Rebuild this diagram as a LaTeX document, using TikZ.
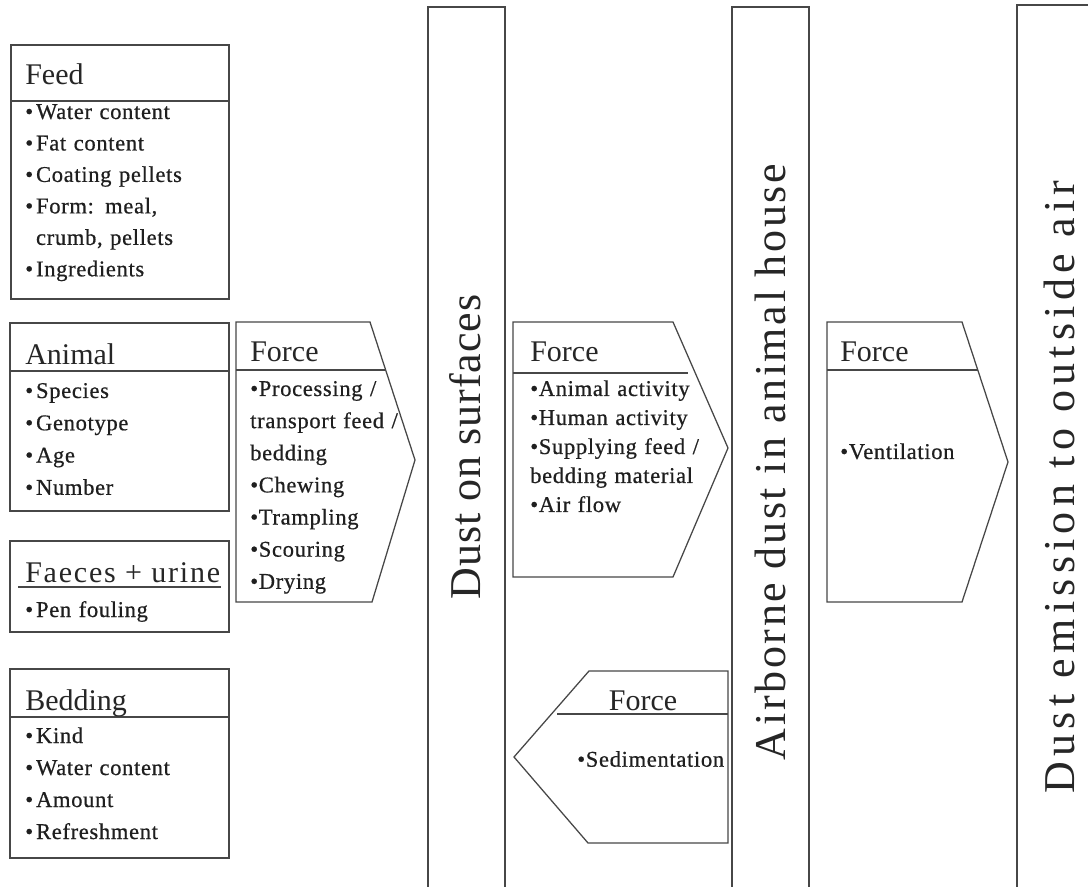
\documentclass[tikz,border=0pt]{standalone}
\usepackage{fontspec}
\setmainfont{Liberation Serif}
\tikzset{
  ln/.style={draw=black!72, line width=0.95pt, line join=miter},
  ttl/.style={anchor=base west, inner sep=0pt, text=black!85, font=\fontsize{22.5}{26}\selectfont},
  body/.style={anchor=base west, inner sep=0pt, text=black!88, text width=220pt, align=left, font=\fontsize{16.9}{#1}\selectfont\addfontfeatures{LetterSpace=3,FakeBold=0.6}},
  bartext/.style={anchor=base, rotate=90, inner sep=0pt, text=black!85, font=\fontsize{33}{36}\selectfont}
}
\newcommand{\bl}{\textbullet\hspace{2.2pt}}
\begin{document}
\begin{tikzpicture}[x=0.75pt,y=-0.75pt]
\path[fill=white,use as bounding box] (0,0) rectangle (1088,887);

% ---------- left boxes ----------
\draw[ln] (11,45) rectangle (229,299);
\draw[ln] (11,101) -- (229,101);
\node[ttl] (feedT) at (25,85) {Feed};
\node[body=23.6pt] (feedB) at (25,119) {\bl Water content\\ \bl Fat content\\ \bl Coating pellets\\ \bl Form: meal,\\ \phantom{\bl}crumb, pellets\\ \bl Ingredients};

\draw[ln] (10,323) rectangle (229,511);
\draw[ln] (10,371) -- (229,371);
\node[ttl] (animT) at (25,365) {Animal};
\node[body=24.2pt] (animB) at (25,398) {\bl Species\\ \bl Genotype\\ \bl Age\\ \bl Number};

\draw[ln] (10,541) rectangle (229,632);
\draw[ln] (18,587) -- (221,587);
\node[ttl] (faecT) at (25,582) {\addfontfeature{LetterSpace=6}Faeces + urine};
\node[body=24pt] (faecB) at (25,617) {\bl Pen fouling};

\draw[ln] (10,669) rectangle (229,858);
\draw[ln] (10,717) -- (229,717);
\node[ttl] (bedT) at (25,710) {Bedding};
\node[body=24pt] (bedB) at (25,743) {\bl Kind\\ \bl Water content\\ \bl Amount\\ \bl Refreshment};

% ---------- force 1 ----------
\draw[ln] (236,322) -- (370,322) -- (415,460) -- (372,602) -- (236,602) -- cycle;
\draw[ln] (236,370) -- (385.7,370);
\node[ttl] (f1T) at (250,361.7) {Force};
\node[body=24.1pt] (f1B) at (250,396) {\textbullet Processing /\\ transport feed /\\ bedding\\ \textbullet Chewing\\ \textbullet Trampling\\ \textbullet Scouring\\ \textbullet Drying};

% ---------- force 2 ----------
\draw[ln] (513,322) -- (673,322) -- (728,448) -- (673,577) -- (513,577) -- cycle;
\draw[ln] (513,373) -- (688,373);
\node[ttl] (f2T) at (530,361.7) {Force};
\node[body=21.75pt] (f2B) at (530,396) {\textbullet Animal activity\\ \textbullet Human activity\\ \textbullet Supplying feed /\\ bedding material\\ \textbullet Air flow};

% ---------- force 3 ----------
\draw[ln] (827,322) -- (962,322) -- (1008,462) -- (962,602) -- (827,602) -- cycle;
\draw[ln] (827,370) -- (977.8,370);
\node[ttl] (f3T) at (840,361.7) {Force};
\node[body=24pt] (f3B) at (840,459) {\textbullet Ventilation};

% ---------- force 4 (back) ----------
\draw[ln] (589,671) -- (728,671) -- (728,843) -- (588,843) -- (514,757) -- cycle;
\draw[ln] (557,714) -- (728,714);
\node[ttl, anchor=base] (f4T) at (643,710) {Force};
\node[body=24pt] (f4B) at (577,766.7) {\textbullet Sedimentation};

% ---------- bars ----------
\draw[ln] (428,900) -- (428,7) -- (505,7) -- (505,900);
\draw[ln] (732,900) -- (732,7) -- (809,7) -- (809,900);
\draw[ln] (1017,900) -- (1017,5) -- (1100,5);
\node[bartext] (bar1) at (480,447) {\addfontfeature{LetterSpace=2}Dust on surfaces};
\node[bartext] (bar2) at (785,462) {\addfontfeature{LetterSpace=6}Airborne dust in animal house};
\node[bartext] (bar3) at (1074,487) {\addfontfeature{LetterSpace=12}Dust emission to outside air};
\end{tikzpicture}
\end{document}
